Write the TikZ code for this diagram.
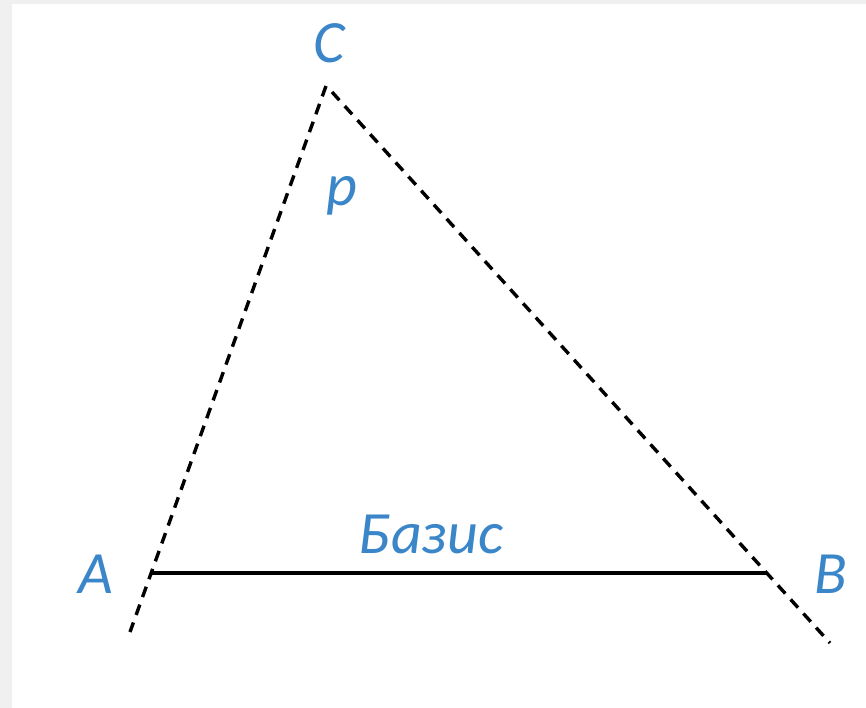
\documentclass[tikz,border=0pt]{standalone}
\usepackage{fontspec}
\setmainfont{Carlito}
\definecolor{lbl}{HTML}{3A86C8}
\definecolor{frame}{HTML}{F0F0F0}
\begin{document}
\begin{tikzpicture}[x=1pt,y=-1pt,
  lab/.style={text=lbl,font=\itshape\fontsize{60}{60}\selectfont,inner sep=0pt,anchor=base},
  dline/.style={draw=black,line width=3.4pt,dash pattern=on 11pt off 8pt},
  sline/.style={draw=black,line width=3.4pt}]
\useasboundingbox (0,0) rectangle (866,708);
\fill[frame] (0,0) rectangle (866,708);
\fill[white] (12,4) rectangle (866,708);
% points
\coordinate (Ctop) at (326,86);
\coordinate (Ctop2) at (332,92);
\coordinate (Aend) at (130,632);
\coordinate (Bend) at (830,643);
\coordinate (A) at (152,573);
\coordinate (B) at (767,573);
% lines
\draw[dline] (Ctop) -- (Aend);
\draw[dline] (Ctop2) -- (Bend);
\draw[sline] (A) -- (B);
% labels
\node[lab] (lC) at (329,63) {C};
\node[lab] (lA) at (96,593) {A};
\node[lab] (lB) at (831,593) {B};
\node[lab] (lp) at (342,206) {p};
\node[lab] (lbase) at (431,553) {Базис};
\end{tikzpicture}
\end{document}
